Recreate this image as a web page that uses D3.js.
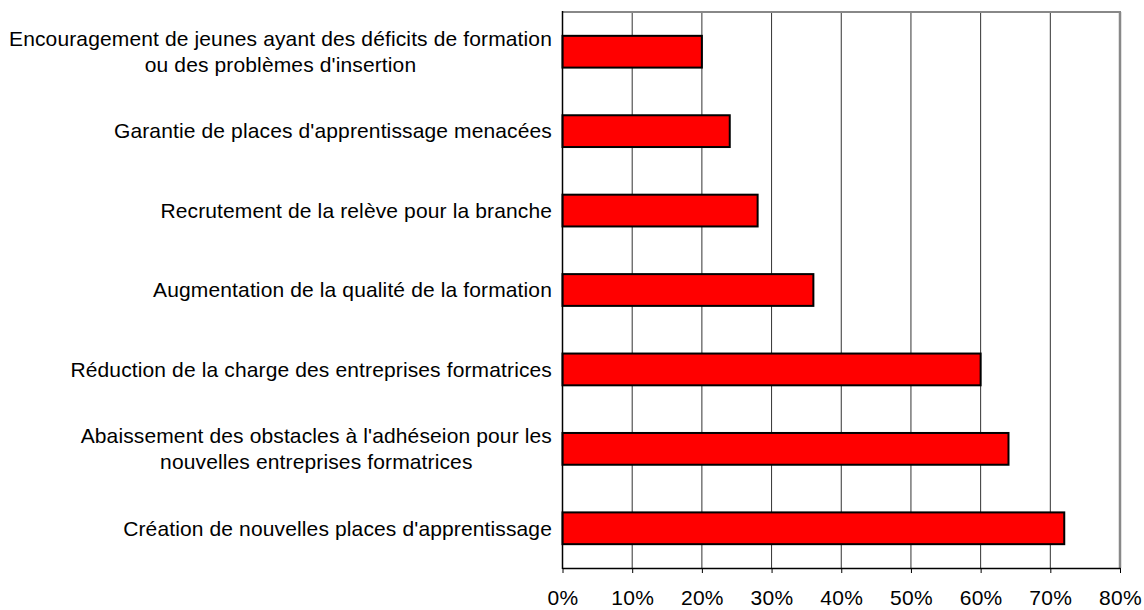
<!DOCTYPE html>
<html>
<head>
<meta charset="utf-8">
<script src="https://cdn.jsdelivr.net/npm/d3@7"></script>
<style>
  body { margin: 0; background: #fff; }
  svg text { font-family: "Liberation Sans", Arial, sans-serif; fill: #000; }
</style>
</head>
<body>
<div id="chart"></div>
<script>
// categories, top to bottom (each entry = lines of the label)
const categories = [
  ["Encouragement de jeunes ayant des déficits de formation", "ou des problèmes d'insertion"],
  ["Garantie de places d'apprentissage menacées"],
  ["Recrutement de la relève pour la branche"],
  ["Augmentation de la qualité de la formation"],
  ["Réduction de la charge des entreprises formatrices"],
  ["Abaissement des obstacles à l'adhéseion pour les", "nouvelles entreprises formatrices"],
  ["Création de nouvelles places d'apprentissage"]
];
const values = [20, 24, 28, 36, 60, 64, 72];
const ticks = [0, 10, 20, 30, 40, 50, 60, 70, 80];

const w = 1144, h = 610;
const plotL = 562.5, plotR = 1120, plotT = 12, plotB = 568;
const fontSize = 21;

let svg = d3.select("#chart").append("svg")
  .attr("width", w).attr("height", h);

let x = d3.scaleLinear().domain([0, 80]).range([plotL, plotR]);
let y = d3.scaleBand().domain(d3.range(categories.length)).range([plotT, plotB]).paddingInner(0.6).paddingOuter(0.3);

// grid lines
svg.append("g").selectAll("line")
  .data(ticks.slice(1, -1))
  .join("line")
  .attr("x1", d => x(d)).attr("x2", d => x(d))
  .attr("y1", plotT).attr("y2", plotB)
  .attr("stroke", "#333").attr("stroke-width", 1);

// top & right border (gray)
svg.append("line").attr("x1", plotL).attr("x2", plotR + 1).attr("y1", plotT).attr("y2", plotT)
  .attr("stroke", "#888").attr("stroke-width", 2);
svg.append("line").attr("x1", plotR).attr("x2", plotR).attr("y1", plotT).attr("y2", plotB)
  .attr("stroke", "#888").attr("stroke-width", 2.5);

// bars
svg.append("g").selectAll("rect")
  .data(values)
  .join("rect")
  .attr("x", x(0))
  .attr("y", (d, i) => y(i))
  .attr("width", d => x(d) - x(0))
  .attr("height", y.bandwidth())
  .attr("fill", "#ff0000")
  .attr("stroke", "#000")
  .attr("stroke-width", 2);

// bottom axis
let xAxis = d3.axisBottom(x).tickValues(ticks).tickFormat(d => d + "%").tickSize(5).tickSizeOuter(0);
let gx = svg.append("g").attr("transform", `translate(0,${plotB})`).call(xAxis);
gx.select(".domain").attr("stroke", "#000").attr("stroke-width", 1.5);
gx.selectAll(".tick line").attr("stroke", "#000");
gx.selectAll(".tick text").attr("y", 30).attr("dy", "0.35em")
  .style("font-size", fontSize + "px").style("font-family", "'Liberation Sans', Arial, sans-serif")
  .style("letter-spacing", "0.3px").attr("fill", "#000");

// left axis line
svg.append("line").attr("x1", plotL).attr("x2", plotL).attr("y1", plotT - 1).attr("y2", plotB + 1)
  .attr("stroke", "#000").attr("stroke-width", 1.5);

// category labels: block right-aligned, lines centered within block
const lineH = 26;
let labels = svg.append("g").selectAll("g")
  .data(categories)
  .join("g");
labels.each(function (lines, i) {
  let g = d3.select(this);
  let cy = y(i) + y.bandwidth() / 2;
  let texts = g.selectAll("text").data(lines).join("text")
    .attr("font-size", fontSize)
    .style("letter-spacing", "0.13px")
    .attr("dy", "0.35em")
    .attr("y", (d, j) => cy + (j - (lines.length - 1) / 2) * lineH)
    .text(d => d);
  let maxW = d3.max(texts.nodes(), n => n.getComputedTextLength());
  texts.attr("text-anchor", "middle").attr("x", 552 - maxW / 2);
});
</script>
</body>
</html>
